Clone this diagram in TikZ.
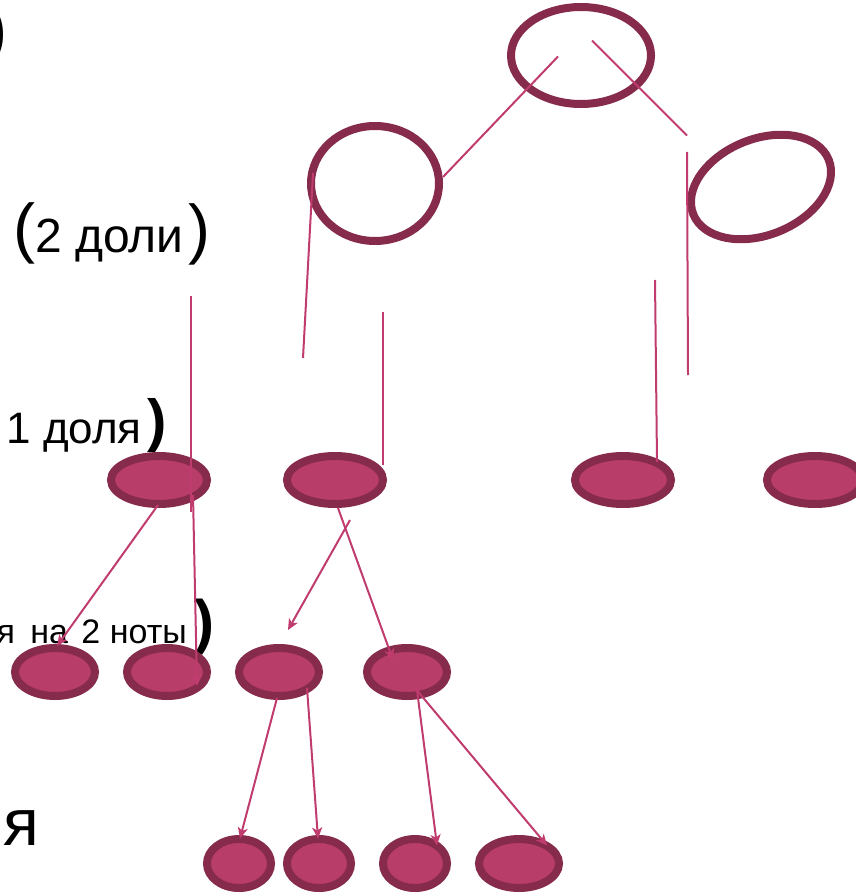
\documentclass[tikz,border=0pt]{standalone}
\usepackage{fontspec}
\setmainfont{Liberation Sans}
\usetikzlibrary{shapes.geometric,arrows.meta,calc}
\definecolor{rimc}{RGB}{134,43,75}
\definecolor{fillc}{RGB}{185,61,105}
\definecolor{linec}{RGB}{192,60,110}
\tikzset{
  hollow/.style={ellipse,draw=rimc,line width=8pt,inner sep=0pt},
  solid/.style={ellipse,draw=rimc,fill=fillc,line width=8pt,inner sep=0pt},
  stem/.style={draw=linec,line width=2pt},
  arr/.style={draw=linec,line width=2pt,-{Stealth[length=11pt,width=10pt,inset=3pt]}},
  lbl/.style={inner sep=0pt,text=black},
}
\begin{document}
\begin{tikzpicture}[x=1pt,y=-1pt]
\useasboundingbox (0,0) rectangle (855,893);
% texts
\node[lbl,anchor=east] (p0) at (7,35) {\fontsize{60}{60}\selectfont\bfseries )};
\node[lbl] (p1) at (24.5,233.5) {\fontsize{66}{66}\selectfont (};
\node[lbl,anchor=base west] (t1) at (35,252) {\fontsize{48}{48}\selectfont 2 доли};
\node[lbl] (p2) at (199,234) {\fontsize{66}{66}\selectfont )};
\node[lbl,anchor=base east] (t2) at (142,443) {\fontsize{44}{44}\selectfont 1 доля};
\node[lbl] (p3) at (157,426) {\fontsize{58}{58}\selectfont\bfseries )};
\node[lbl,anchor=base east] (t3) at (187,643) {\fontsize{34}{34}\selectfont я\hspace{6pt} на\hspace{4pt} 2 ноты};
\node[lbl] (p4) at (204,627) {\fontsize{60}{60}\selectfont\bfseries )};
\node[lbl,anchor=base east] (t4) at (39,845) {\fontsize{66}{66}\selectfont ля};
% whole / halves
\node[hollow,minimum width=140,minimum height=97] (w) at (581,55.5) {};
\node[hollow,minimum width=128,minimum height=115] (h1) at (375,183.5) {};
\node[hollow,minimum width=146,minimum height=96,rotate=22] (h2) at (761,187) {};
% quarters
\node[solid,minimum width=96,minimum height=48] (q1) at (159,480) {};
\node[solid,minimum width=96,minimum height=48] (q2) at (335,480) {};
\node[solid,minimum width=96,minimum height=48] (q3) at (623,480) {};
\node[solid,minimum width=96,minimum height=48] (q4) at (815,480) {};
% eighths
\node[solid,minimum width=80,minimum height=48] (e1) at (55,672) {};
\node[solid,minimum width=80,minimum height=48] (e2) at (167,672) {};
\node[solid,minimum width=80,minimum height=48] (e3) at (279,672) {};
\node[solid,minimum width=80,minimum height=48] (e4) at (407,672) {};
% sixteenths
\node[solid,minimum width=64,minimum height=49] (s1) at (239,863.5) {};
\node[solid,minimum width=64,minimum height=49] (s2) at (319,863.5) {};
\node[solid,minimum width=64,minimum height=49] (s3) at (415,863.5) {};
\node[solid,minimum width=80,minimum height=49] (s4) at (519,863.5) {};
% free ends
\coordinate (c1) at (303,358);
\coordinate (c2) at (383,312);
\coordinate (c3) at (688,375);
\coordinate (c4) at (655,280);
\coordinate (c5) at (191,296);
% connectors
\draw[stem] ($(w.center)+(-23,1)$) -- ($(h1.center)+(68,-6.5)$);
\draw[stem] ($(w.center)+(11,-15)$) -- ($(w.center)+(106,80)$);
\draw[stem] ($(h1.center)+(-62,-10.5)$) -- (c1);
\draw[stem] (c2) -- ($(q2.center)+(48,-15)$);
\draw[stem] ($(h2.center)+(-74,-35)$) -- (c3);
\draw[stem] (c4) -- ($(q3.center)+(34,-18)$);
\draw[stem] (c5) -- ($(q1.center)+(32,32)$);
\draw[arr] ($(q1.center)+(34,15)$) -- ($(e2.center)+(30,14)$);
\draw[arr] ($(q1.center)+(-1,25)$) -- ($(e1.center)+(2,-26)$);
\draw[arr] ($(q2.center)+(15,40)$) -- ($(e3.center)+(9,-42)$);
\draw[arr] ($(q2.center)+(3,28)$) -- ($(e4.center)+(-14,-12)$);
\draw[arr] ($(e3.center)+(-2,26)$) -- ($(s1.center)+(1,-25)$);
\draw[arr] ($(e3.center)+(28,16)$) -- ($(s2.center)+(-1,-25)$);
\draw[arr] ($(e4.center)+(10,18)$) -- ($(s3.center)+(22,-18)$);
\draw[arr] ($(e4.center)+(8,16)$) -- ($(s4.center)+(28,-18)$);
\end{tikzpicture}
\end{document}
